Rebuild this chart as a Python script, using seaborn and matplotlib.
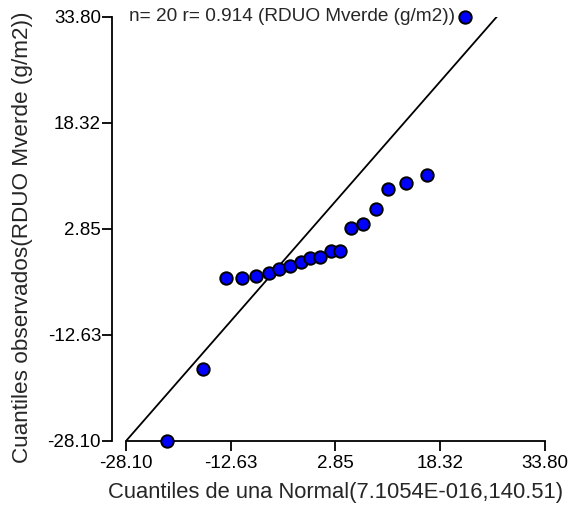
import matplotlib
matplotlib.use("Agg")
import matplotlib.pyplot as plt
import seaborn as sns
import pandas as pd

# Normal quantiles (x) against observed quantiles (y)
theoretical_q = [-22.00, -16.77, -13.37, -10.96, -8.94, -7.02, -5.45, -3.87, -2.29, -0.96,
                 0.56, 2.19, 3.51, 5.10, 6.91, 8.79, 10.65, 13.27, 16.37, 21.94]
observed_q = [-28.10, -17.60, -4.29, -4.29, -4.04, -3.56, -3.02, -2.54, -2.00, -1.46,
              -1.23, -0.39, -0.39, 2.92, 3.50, 5.77, 8.65, 9.48, 10.73, 33.80]

# Reference line end points
ref_x = [-28.10, 26.71]
ref_y = [-28.10, 33.80]

tick_values = [-28.10, -12.63, 2.85, 18.32, 33.80]
tick_labels = ["-28.10", "-12.63", "2.85", "18.32", "33.80"]

title_text = "n= 20 r= 0.914 (RDUO Mverde (g/m2))"
x_label = "Cuantiles de una Normal(7.1054E-016,140.51)"
y_label = "Cuantiles observados(RDUO Mverde (g/m2))"

sns.set_style("ticks")
plt.rcParams["font.family"] = ["Liberation Sans", "DejaVu Sans"]

df = pd.DataFrame({"teorico": theoretical_q, "observado": observed_q})

fig = plt.figure(figsize=(5.73, 5.08), dpi=100)
ax = fig.add_axes([0.2199, 0.1319, 0.7312, 0.8356])

sns.lineplot(x=ref_x, y=ref_y, ax=ax, color="black", linewidth=1.3, zorder=2)
sns.scatterplot(data=df, x="teorico", y="observado", ax=ax, color="#0000FF",
                edgecolor="black", linewidth=1.4, s=80, zorder=3, clip_on=False)

ax.set_xlim(-28.10, 33.80)
ax.set_ylim(-28.10, 33.80)
ax.set_xticks(tick_values)
ax.set_xticklabels(tick_labels)
ax.set_yticks(tick_values)
ax.set_yticklabels(tick_labels)

sns.despine(ax=ax)
ax.spines["left"].set_position(("outward", 10))
for side in ("left", "bottom"):
    ax.spines[side].set_linewidth(1.3)
    ax.spines[side].set_color("black")
ax.tick_params(axis="both", direction="out", length=7, width=1.3,
               labelsize=13.5, colors="black")
ax.tick_params(axis="y", pad=1)
ax.tick_params(axis="x", pad=3)

ax.set_xlabel(x_label, fontsize=15.8, labelpad=7)
ax.set_ylabel(y_label, fontsize=16.2)
ax.yaxis.set_label_coords(-0.222, 0.479)

ax.text(0.007, 1.0, title_text, transform=ax.transAxes, fontsize=13.7,
        ha="left", va="center")

fig.savefig("out.png", dpi=100, facecolor="white")
